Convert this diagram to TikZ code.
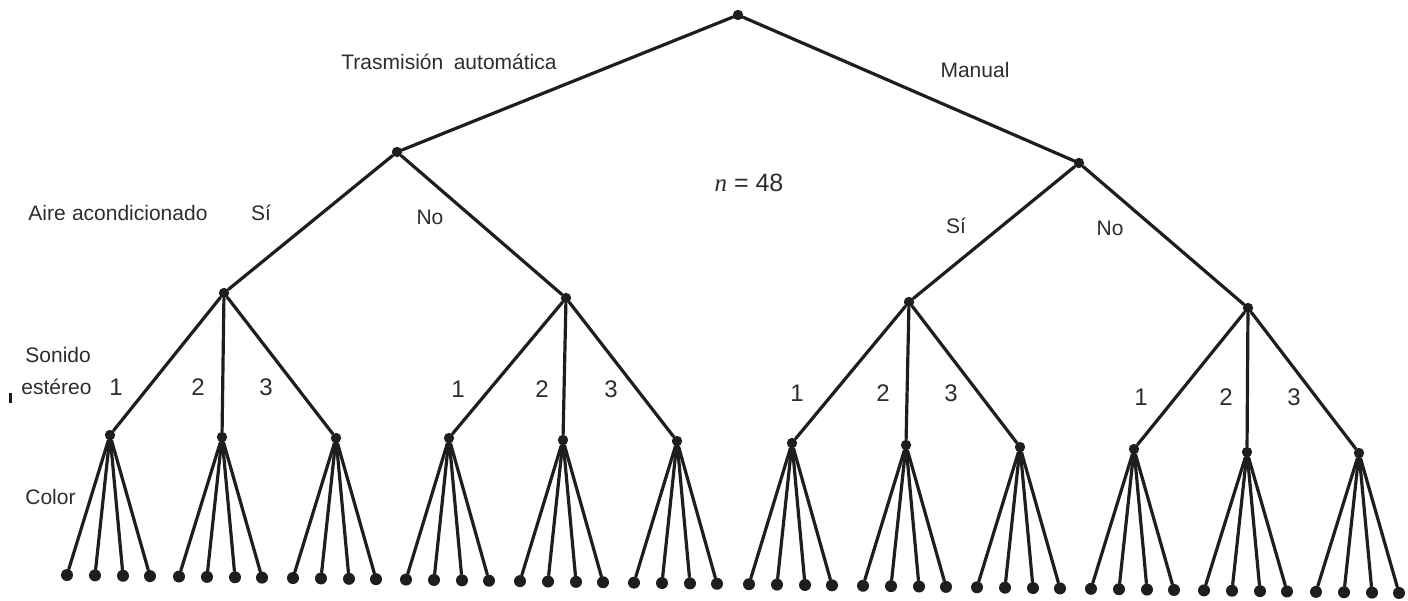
\documentclass[tikz,border=0pt]{standalone}
\usepackage{fontspec}
\setmainfont{Liberation Sans}
\newfontfamily\italfont{Liberation Serif}
\definecolor{inkc}{RGB}{30,30,30}
\definecolor{txtc}{RGB}{45,45,45}
\begin{document}
\begin{tikzpicture}[x=0.5pt,y=-0.5pt,
  ink/.style={line width=1.6pt, draw=inkc, line cap=round},
  dot/.style={circle, fill=inkc, inner sep=0pt, minimum size=5.2pt},
  leaf/.style={circle, fill=inkc, inner sep=0pt, minimum size=6pt},
  lbl/.style={font=\fontsize{10.5}{12}\selectfont, text=txtc, inner sep=0pt,
              text height=7.5pt, text depth=0pt},
  numlbl/.style={lbl, font=\fontsize{12}{14}\selectfont, text height=8.6pt}]
\useasboundingbox (0,0) rectangle (1408,600);

% root and first two levels
\node[dot] (r)  at (738,15)  {};
\node[dot] (a)  at (397,152) {};
\node[dot] (m)  at (1079,163) {};
\node[dot] (as) at (224,293) {};
\node[dot] (an) at (566,298) {};
\node[dot] (ms) at (909,302) {};
\node[dot] (mn) at (1248,308) {};
\draw[ink] (r) -- (a);
\draw[ink] (r) -- (m);
\draw[ink] (a) -- (as);
\draw[ink] (a) -- (an);
\draw[ink] (m) -- (ms);
\draw[ink] (m) -- (mn);

% stereo level and the four colour leaves under each node
\foreach \i/\x/\y/\p in {1/110/435/as, 2/222/437/as, 3/336/438/as,
                         4/449/438/an, 5/563/440/an, 6/677/441/an,
                         7/792/443/ms, 8/906/445/ms, 9/1020/447/ms,
                         10/1134/449/mn, 11/1247/452/mn, 12/1359/453/mn} {
  \node[dot] (g\i) at (\x,\y) {};
  \draw[ink] (\p) -- (g\i);
  \foreach \j/\dx in {1/-43, 2/-15, 3/13, 4/40} {
    \pgfmathsetmacro\lx{\x+\dx}
    \pgfmathsetmacro\ly{575+0.0135*(\lx-67)}
    \node[leaf] (g\i-\j) at (\lx,\ly) {};
    \draw[ink] (g\i) -- (g\i-\j);
  }
}

% level captions
\node[lbl] (ltr) at (449,62) {Trasmisión\hspace{0.5em}automática};
\node[lbl] (lma) at (975,70) {Manual};
\node[numlbl, font=\fontsize{12.5}{14}\selectfont] (ln) at (749,183) {{\italfont\itshape n} = 48};
\node[lbl, anchor=west] (lac) at (28,213) {Aire\hspace{0.3em}acondicionado};
\node[lbl, anchor=west] (lso) at (25,355) {Sonido};
\node[lbl, anchor=west] (les) at (21,387) {estéreo};
\node[lbl, anchor=west] (lco) at (25,497) {Color};

% branch labels
\node[lbl] (s1) at (261,213) {Sí};
\node[lbl] (n1) at (430,217) {No};
\node[lbl] (s2) at (956,226) {Sí};
\node[lbl] (n2) at (1110,228) {No};

\foreach \k/\x/\y/\t in {1/116/387/1, 2/198/387/2, 3/266/387/3,
                         4/458/389/1, 5/542/389/2, 6/611/389/3,
                         7/797/393/1, 8/883/393/2, 9/951/393/3,
                         10/1141/397/1, 11/1226/397/2, 12/1294/397/3}
  \node[numlbl] (num\k) at (\x,\y) {\t};

% small mark at the left margin
\fill[inkc] (9,393) rectangle (12,403);
\end{tikzpicture}
\end{document}
